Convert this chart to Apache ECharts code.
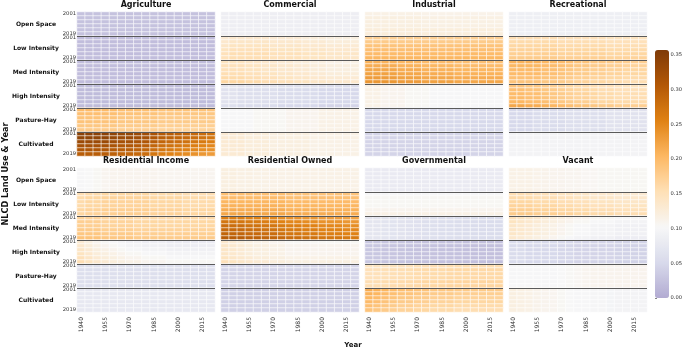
<!DOCTYPE html>
<html>
<head>
<meta charset="utf-8">
<script src="https://cdn.jsdelivr.net/npm/echarts@6/dist/echarts.min.js"></script>
<style>
  html, body { margin: 0; padding: 0; background: #fff; }
  #char { width: 685px; height: 349px; }
</style>
</head>
<body>
<div id="char"></div>
<script>
// columns (x) and row labels
var xYears = ['1940', '1945', '1950', '1955', '1960', '1965', '1970', '1975', '1980',
              '1985', '1990', '1995', '2000', '2005', '2010', '2015', '2020'];
var rowYears = ['2001', '2004', '2006', '2011', '2016', '2019'];
var groups = ['Open Space', 'Low Intensity', 'Med Intensity', 'High Intensity', 'Pasture-Hay', 'Cultivated'];
var panelNames = ['Agriculture', 'Commercial', 'Industrial', 'Recreational',
                  'Residential Income', 'Residential Owned', 'Governmental', 'Vacant'];
var barTicks = [0, 0.05, 0.10, 0.15, 0.20, 0.25, 0.30, 0.35];

// each panel: one row of 17 values per land use (read across the columns),
// plus the shift of each year row inside that land use block (2001 .. 2019)
var agricultureBase = [
    [.025, .025, .025, .025, .025, .025, .025, .025, .025, .025, .025, .025, .025, .025, .025, .025, .025],
    [.02, .02, .02, .02, .02, .02, .02, .02, .02, .02, .02, .02, .02, .02, .02, .02, .02],
    [.02, .02, .02, .02, .02, .02, .02, .02, .02, .02, .02, .02, .02, .02, .02, .02, .02],
    [.018, .018, .018, .018, .018, .018, .018, .018, .018, .018, .018, .018, .018, .018, .018, .018, .018],
    [.19, .19, .19, .19, .19, .185, .185, .185, .185, .185, .18, .18, .18, .18, .18, .18, .18],
    [.33, .33, .33, .33, .325, .32, .32, .315, .31, .30, .29, .285, .28, .275, .27, .265, .26]
];
var agricultureYear = [
    [0, 0, 0, 0, 0, 0], [0, 0, 0, 0, 0, 0], [0, 0, 0, 0, 0, 0], [0, 0, 0, 0, 0, 0],
    [.01, .005, 0, 0, -.005, -.01],
    [.015, .01, 0, -.01, -.02, -.03]
];
var commercialBase = [
    [.087, .087, .087, .087, .087, .087, .087, .087, .087, .087, .087, .087, .087, .087, .087, .087, .087],
    [.14, .145, .145, .145, .145, .145, .14, .14, .14, .14, .135, .135, .135, .13, .13, .13, .13],
    [.15, .15, .15, .145, .145, .14, .14, .135, .135, .13, .13, .125, .125, .12, .12, .12, .12],
    [.065, .065, .06, .06, .06, .06, .06, .055, .055, .055, .055, .055, .05, .05, .05, .05, .05],
    [.10, .10, .10, .10, .105, .105, .105, .105, .11, .11, .11, .11, .115, .115, .115, .115, .115],
    [.13, .13, .13, .125, .125, .125, .12, .12, .12, .12, .12, .115, .115, .115, .115, .115, .115]
];
var commercialYear = [
    [0, 0, 0, 0, 0, 0],
    [-.01, -.005, 0, .005, .01, .01],
    [-.005, 0, 0, .005, .01, .015],
    [.005, 0, 0, 0, 0, -.005],
    [0, 0, 0, 0, 0, 0],
    [0, 0, 0, 0, 0, 0]
];
var industrialBase = [
    [.12, .12, .12, .12, .12, .12, .12, .118, .118, .118, .118, .118, .118, .118, .118, .118, .118],
    [.19, .19, .19, .19, .19, .19, .19, .19, .19, .19, .19, .19, .19, .19, .19, .19, .19],
    [.22, .22, .22, .22, .215, .215, .215, .21, .21, .21, .21, .205, .205, .205, .205, .205, .205],
    [.115, .115, .11, .11, .11, .105, .105, .105, .10, .10, .10, .10, .10, .10, .10, .10, .10],
    [.05, .05, .05, .05, .05, .05, .05, .05, .05, .05, .05, .05, .05, .05, .05, .05, .05],
    [.045, .045, .045, .045, .045, .045, .045, .045, .045, .045, .045, .045, .045, .045, .045, .045, .045]
];
var industrialYear = [
    [-.005, 0, 0, 0, .005, .005],
    [-.015, -.01, 0, .005, .01, .015],
    [-.01, -.005, 0, .005, .01, .015],
    [0, 0, 0, 0, 0, 0],
    [0, 0, 0, 0, 0, 0],
    [0, 0, 0, 0, 0, 0]
];
var recreationalBase = [
    [.088, .088, .088, .088, .088, .088, .088, .088, .088, .088, .088, .088, .088, .088, .088, .088, .088],
    [.165, .165, .165, .165, .165, .165, .16, .16, .16, .16, .16, .16, .155, .155, .155, .155, .155],
    [.20, .20, .20, .20, .195, .195, .19, .185, .18, .18, .175, .175, .17, .17, .165, .165, .165],
    [.20, .20, .195, .195, .19, .185, .18, .175, .17, .17, .165, .16, .16, .155, .155, .155, .155],
    [.05, .05, .05, .055, .055, .055, .055, .06, .06, .06, .06, .06, .065, .065, .065, .065, .065],
    [.095, .095, .095, .095, .095, .095, .095, .095, .095, .095, .095, .095, .095, .095, .095, .095, .095]
];
var recreationalYear = [
    [0, 0, 0, 0, 0, 0],
    [-.01, -.005, 0, .005, .01, .015],
    [.01, .005, 0, 0, -.005, -.01],
    [-.01, -.005, 0, 0, .005, .02],
    [0, 0, 0, 0, 0, 0],
    [0, 0, 0, 0, 0, 0]
];
var resIncomeBase = [
    [.10, .102, .105, .108, .11, .11, .11, .11, .11, .11, .108, .108, .108, .108, .108, .108, .108],
    [.16, .165, .165, .17, .17, .17, .17, .17, .17, .165, .165, .165, .165, .16, .16, .16, .16],
    [.175, .175, .175, .17, .17, .17, .17, .165, .165, .165, .165, .165, .165, .165, .165, .165, .165],
    [.14, .13, .12, .115, .11, .105, .10, .10, .095, .095, .095, .09, .09, .09, .09, .09, .09],
    [.06, .06, .06, .06, .06, .06, .06, .06, .06, .06, .06, .06, .06, .06, .06, .06, .06],
    [.075, .075, .075, .075, .075, .075, .075, .075, .075, .075, .075, .075, .075, .075, .075, .075, .075]
];
var resIncomeYear = [
    [0, 0, 0, 0, 0, 0],
    [-.005, 0, 0, 0, .005, .005],
    [-.005, 0, 0, .005, .01, .015],
    [-.01, -.005, 0, .005, .01, .015],
    [0, 0, 0, 0, 0, 0],
    [0, 0, 0, 0, 0, 0]
];
var resOwnedBase = [
    [.12, .12, .118, .118, .116, .116, .115, .115, .115, .115, .115, .115, .115, .115, .115, .115, .115],
    [.205, .205, .205, .205, .205, .205, .205, .205, .20, .20, .20, .20, .20, .20, .20, .20, .20],
    [.28, .28, .28, .275, .275, .27, .27, .265, .26, .26, .255, .255, .25, .25, .25, .245, .245],
    [.14, .135, .13, .125, .12, .12, .115, .115, .11, .11, .11, .11, .11, .11, .11, .11, .11],
    [.045, .045, .045, .045, .045, .045, .045, .045, .045, .045, .045, .045, .045, .045, .045, .045, .045],
    [.04, .04, .04, .04, .04, .04, .04, .04, .04, .04, .04, .04, .04, .04, .04, .04, .04]
];
var resOwnedYear = [
    [0, 0, 0, 0, 0, 0],
    [-.01, -.005, 0, .005, .01, .015],
    [-.02, -.01, 0, .005, .01, .02],
    [-.005, 0, 0, 0, .005, .01],
    [0, 0, 0, 0, 0, 0],
    [0, 0, 0, 0, 0, 0]
];
var governmentalBase = [
    [.08, .08, .08, .08, .08, .08, .08, .08, .08, .08, .08, .08, .08, .08, .08, .08, .08],
    [.105, .105, .105, .105, .105, .105, .105, .105, .105, .105, .105, .105, .105, .105, .105, .105, .105],
    [.07, .07, .068, .066, .065, .064, .062, .06, .06, .058, .058, .056, .056, .055, .055, .055, .055],
    [.03, .03, .028, .028, .027, .026, .025, .025, .025, .024, .024, .024, .023, .023, .023, .023, .023],
    [.15, .15, .152, .154, .155, .156, .158, .16, .16, .16, .162, .162, .162, .162, .162, .162, .162],
    [.20, .195, .19, .185, .18, .18, .175, .175, .17, .17, .17, .165, .165, .165, .165, .165, .165]
];
var governmentalYear = [
    [0, 0, 0, 0, 0, 0],
    [-.005, 0, 0, 0, .005, .01],
    [0, 0, 0, 0, 0, 0],
    [0, 0, 0, 0, 0, 0],
    [-.005, 0, 0, 0, .005, .005],
    [.015, .01, .005, 0, -.005, -.01]
];
var vacantBase = [
    [.115, .115, .115, .113, .112, .11, .11, .108, .108, .106, .106, .105, .105, .105, .105, .105, .105],
    [.165, .165, .165, .16, .16, .16, .155, .155, .15, .15, .145, .145, .145, .14, .14, .14, .14],
    [.14, .135, .13, .125, .12, .115, .11, .105, .10, .10, .095, .095, .095, .09, .09, .09, .09],
    [.055, .055, .05, .05, .05, .05, .048, .048, .045, .045, .045, .045, .045, .043, .043, .043, .043],
    [.10, .10, .10, .10, .10, .10, .102, .104, .106, .108, .11, .11, .11, .11, .11, .11, .11],
    [.12, .118, .115, .112, .11, .108, .105, .102, .10, .10, .098, .098, .096, .095, .095, .095, .095]
];
var vacantYear = [
    [0, 0, 0, 0, 0, 0],
    [-.01, -.005, 0, .005, .01, .015],
    [.01, .005, 0, 0, 0, -.005],
    [0, 0, 0, 0, 0, 0],
    [0, 0, 0, 0, 0, 0],
    [0, 0, 0, 0, 0, 0]
];

var bases = [agricultureBase, commercialBase, industrialBase, recreationalBase,
             resIncomeBase, resOwnedBase, governmentalBase, vacantBase];
var shifts = [agricultureYear, commercialYear, industrialYear, recreationalYear,
              resIncomeYear, resOwnedYear, governmentalYear, vacantYear];

var rowKeys = [];
for (var g = 0; g < groups.length; g++) {
    for (var y = 0; y < rowYears.length; y++) {
        rowKeys.push(groups[g] + '|' + rowYears[y]);
    }
}

function cells(base, shift) {
    var out = [];
    for (var g = 0; g < groups.length; g++) {
        for (var y = 0; y < rowYears.length; y++) {
            for (var x = 0; x < xYears.length; x++) {
                out.push([x, g * rowYears.length + y, +(base[g][x] + shift[g][y]).toFixed(3)]);
            }
        }
    }
    return out;
}

var FONT = 'DejaVu Sans';
var lefts = [77, 221, 365, 509];
var tops = [12, 168];
var PW = 138, PH = 144;
var nRows = rowYears.length;

var grids = [], xAxes = [], yAxes = [], series = [], titles = [], sepAxes = [];

for (var i = 0; i < panelNames.length; i++) {
    var r = Math.floor(i / 4), c = i % 4;
    grids.push({ left: lefts[c], top: tops[r], width: PW, height: PH });
    titles.push({
        text: panelNames[i],
        left: lefts[c] + PW / 2,
        top: r === 0 ? 1 : 157,
        textAlign: 'center',
        padding: 0,
        textStyle: { fontSize: 8, fontWeight: 'bold', color: '#111', fontFamily: FONT }
    });
    xAxes.push({
        gridIndex: i,
        type: 'category',
        data: xYears,
        axisLine: { show: false },
        axisTick: { show: false },
        axisLabel: {
            show: r === 1, interval: 2, rotate: 90, margin: 5,
            fontSize: 6, color: '#333', fontFamily: FONT
        }
    });
    yAxes.push({
        gridIndex: i,
        type: 'category',
        data: rowKeys,
        inverse: true,
        axisLine: { show: false },
        axisTick: { show: false },
        splitLine: { show: false },
        axisLabel: {
            show: c === 0, interval: 0, margin: 1,
            fontSize: 5.2, color: '#333', fontFamily: FONT,
            formatter: function (v) {
                var yr = v.split('|')[1];
                return (yr === rowYears[0] || yr === rowYears[nRows - 1]) ? yr : '';
            }
        }
    });
    // block separators: a plain row-count axis whose split lines sit between land uses
    sepAxes.push({
        gridIndex: i,
        type: 'value',
        min: 0,
        max: rowKeys.length,
        interval: nRows,
        inverse: true,
        z: 10,
        axisLine: { show: false },
        axisTick: { show: false },
        axisLabel: { show: false },
        splitLine: {
            show: true, showMinLine: false, showMaxLine: false,
            lineStyle: { color: '#5a5a5a', width: 1.2 }
        }
    });
    series.push({
        type: 'heatmap',
        xAxisIndex: i,
        yAxisIndex: i,
        data: cells(bases[i], shifts[i]),
        itemStyle: { borderColor: '#ffffff', borderWidth: 0.6 },
        emphasis: { disabled: true },
        silent: true
    });
}

// land use names beside the left column
[0, 1].forEach(function (r) {
    yAxes.push({
        gridIndex: r * 4,
        type: 'category',
        data: groups,
        inverse: true,
        position: 'left',
        axisLine: { show: false },
        axisTick: { show: false },
        splitLine: { show: false },
        axisLabel: {
            interval: 0, margin: 41, align: 'center',
            fontSize: 6, fontWeight: 'bold', color: '#111', fontFamily: FONT
        }
    });
});

// colour bar tick axis
grids.push({ left: 655, top: 55, width: 14, height: 243 });
xAxes.push({ gridIndex: 8, type: 'value', show: false });
yAxes.push({
    gridIndex: 8,
    type: 'value',
    position: 'right',
    min: barTicks[0],
    max: barTicks[barTicks.length - 1],
    interval: 0.05,
    axisLine: { show: false },
    splitLine: { show: false },
    axisTick: { show: true, length: 2, lineStyle: { color: '#333', width: 0.6 } },
    axisLabel: {
        margin: 3, fontSize: 5.2, color: '#333', fontFamily: FONT,
        formatter: function (v) { return v.toFixed(2); }
    }
});

yAxes = yAxes.concat(sepAxes);

var myChart = echarts.init(document.getElementById('char'), null, { renderer: 'canvas' });

var option = {
    animation: false,
    backgroundColor: '#fff',
    title: titles,
    grid: grids,
    xAxis: xAxes,
    yAxis: yAxes,
    visualMap: {
        type: 'continuous',
        min: 0,
        max: 0.357,
        seriesIndex: [0, 1, 2, 3, 4, 5, 6, 7],
        calculable: false,
        orient: 'vertical',
        left: 655,
        top: 50,
        padding: 0,
        itemWidth: 14,
        itemHeight: 248,
        text: null,
        hoverLink: false,
        inRange: {
            color: ['#b2abd2', '#d8daeb', '#f7f7f7', '#fee0b6', '#fdb863', '#e08214', '#b35806', '#7f3b08']
        }
    },
    graphic: [
        {
            type: 'text',
            x: 6, y: 174,
            rotation: Math.PI / 2,
            style: {
                text: 'NLCD Land Use & Year',
                font: 'bold 8.2px "DejaVu Sans"',
                fill: '#111',
                textAlign: 'center',
                textVerticalAlign: 'middle'
            }
        },
        {
            type: 'text',
            x: 353, y: 345,
            style: {
                text: 'Year',
                font: 'bold 7px "DejaVu Sans"',
                fill: '#111',
                textAlign: 'center',
                textVerticalAlign: 'middle'
            }
        }
    ],
    series: series
};

myChart.setOption(option);
</script>
</body>
</html>
